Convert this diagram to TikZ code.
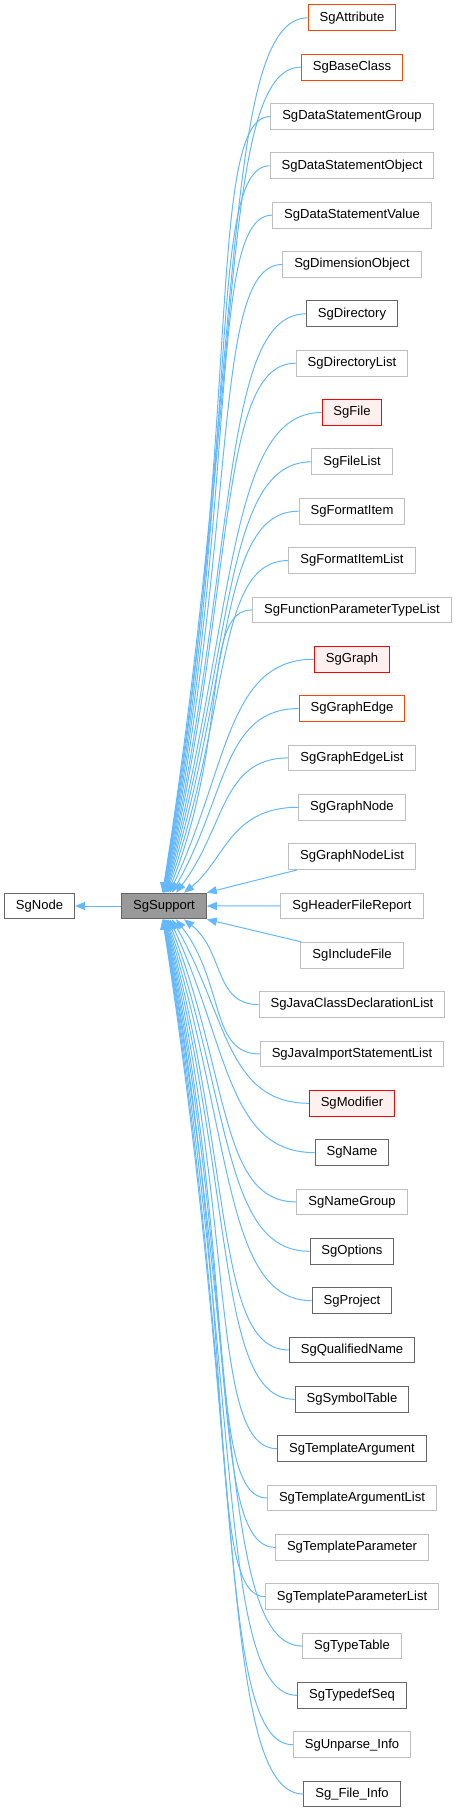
\documentclass[tikz,border=0pt]{standalone}
\usepackage{fontspec}
\setmainfont{Liberation Sans}
\usetikzlibrary{arrows.meta}

\definecolor{linkblue}{HTML}{63B8FF}
\definecolor{darkline}{HTML}{666666}
\definecolor{lightline}{HTML}{BFBFBF}
\definecolor{truncline}{HTML}{FF4500}
\definecolor{redfill}{HTML}{FFF0F0}
\definecolor{curfill}{HTML}{999999}

\tikzset{
  cls/.style={draw, line width=0.75pt, fill=white, minimum height=19.3pt,
    inner xsep=8.6pt, inner ysep=0pt, font=\fontsize{9.8pt}{11pt}\selectfont},
  docbox/.style={cls, draw=darkline},
  nodocbox/.style={cls, draw=lightline},
  truncbox/.style={cls, draw=truncline},
  redbox/.style={cls, draw=red, fill=redfill},
  curbox/.style={cls, draw=darkline, fill=curfill},
  link/.style={draw=linkblue, line width=0.75pt, -{Triangle[length=7.5pt,width=6pt]}},
}

\begin{document}
\begin{tikzpicture}[x=0.75pt, y=-0.75pt]
    \useasboundingbox (0,0) rectangle (456,1812);

    % base classes
    \node[curbox] (sup) at (164,906) {SgSupport};
    \node[docbox] (base) at (39.5,906) {SgNode};
    \draw[link] (sup) -- (base);

    % derived classes
    \foreach \lbl/\kind [count=\i from 0] in {
        SgAttribute/truncbox, SgBaseClass/truncbox,
        SgDataStatementGroup/nodocbox, SgDataStatementObject/nodocbox,
        SgDataStatementValue/nodocbox, SgDimensionObject/nodocbox,
        SgDirectory/docbox, SgDirectoryList/nodocbox, SgFile/redbox,
        SgFileList/nodocbox, SgFormatItem/nodocbox, SgFormatItemList/nodocbox,
        SgFunctionParameterTypeList/nodocbox, SgGraph/redbox,
        SgGraphEdge/truncbox, SgGraphEdgeList/nodocbox, SgGraphNode/nodocbox,
        SgGraphNodeList/nodocbox, SgHeaderFileReport/nodocbox,
        SgIncludeFile/nodocbox, SgJavaClassDeclarationList/nodocbox,
        SgJavaImportStatementList/nodocbox, SgModifier/redbox, SgName/docbox,
        SgNameGroup/nodocbox, SgOptions/docbox, SgProject/docbox,
        SgQualifiedName/docbox, SgSymbolTable/docbox,
        SgTemplateArgument/docbox, SgTemplateArgumentList/nodocbox,
        SgTemplateParameter/nodocbox, SgTemplateParameterList/nodocbox,
        SgTypeTable/nodocbox, SgTypedefSeq/docbox, SgUnparse\_Info/nodocbox,
        Sg\_File\_Info/docbox}
        \node[\kind] (c\i) at (352, {17.8+49.34*\i}) {\lbl};

    % inheritance links
    \draw[link] (c18) -- (sup);
    \draw[link] ([xshift=6.75pt]c17.south west) -- (sup.north east);
    \draw[link] ([xshift=0.75pt]c19.north west) -- (sup.south east);
    \foreach \i in {0,...,36} {
        \pgfmathtruncatemacro\n{abs(\i-18)}
        \pgfmathtruncatemacro\s{sign(\i-18)}
        \ifnum\n>1
        \ifnum\s<0 \def\side{north}\else\def\side{south}\fi
        \path (c\i.west); \pgfgetlastxy{\wx}{\wy}
        \pgfmathsetmacro\wpx{\wx/0.75}
        \pgfmathsetmacro\wpy{17.8+49.34*\i}
        \pgfmathsetmacro\ex{160+48/\n}
        \pgfmathsetmacro\ey{906+13*\s}
        \pgfmathsetmacro\L{0.6*abs(\ey-\wpy)}
        \pgfmathsetmacro\th{90-90/(\n^0.8)}
        \pgfmathsetmacro\cax{\wpx-0.6*(\wpx-\ex)}
        \pgfmathsetmacro\cbx{\ex+\L*cos(\th)}
        \pgfmathsetmacro\cby{\ey+\s*\L*sin(\th)}
        \pgfmathsetmacro\xs{0.75*(\ex-164)}
        \draw[link] (c\i.west) .. controls (\cax,\wpy) and (\cbx,\cby) .. ([xshift=\xs pt]sup.\side);
        \fi
    }
\end{tikzpicture}
\end{document}
